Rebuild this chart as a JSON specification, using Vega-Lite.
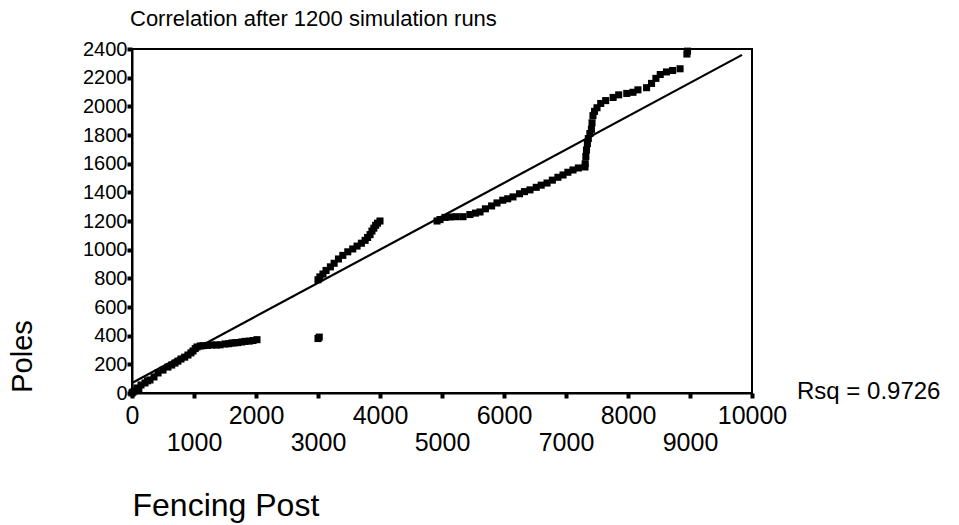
{
  "$schema": "https://vega.github.io/schema/vega-lite/v6.json",
  "width": 620,
  "height": 344,
  "autosize": {"type": "none"},
  "padding": {"left": 132, "top": 49, "right": 207, "bottom": 132},
  "background": "white",
  "config": {
    "font": "Liberation Sans",
    "view": {"stroke": "black", "strokeWidth": 2},
    "axis": {"grid": false, "domainColor": "black", "domainWidth": 2, "tickColor": "black", "labelColor": "black", "titleColor": "black", "labelFont": "Liberation Sans", "titleFont": "Liberation Sans", "titleFontWeight": "normal", "labelOverlap": false, "labelFlush": false, "labelBound": false},
    "axisY": {"labelOverlap": false, "labelSeparation": 0}
  },
  "title": {"text": "Correlation after 1200 simulation runs", "anchor": "start", "frame": "group", "fontSize": 22, "fontWeight": "normal", "font": "Liberation Sans", "color": "black", "baseline": "alphabetic", "offset": -9, "dx": -2},
  "datasets": {
    "runs": [
      {"post": 0, "poles": 0}, {"post": 16, "poles": 7}, {"post": 40, "poles": 15}, {"post": 80, "poles": 35}, {"post": 110, "poles": 30},
      {"post": 145, "poles": 56}, {"post": 210, "poles": 70}, {"post": 250, "poles": 85}, {"post": 290, "poles": 91}, {"post": 355, "poles": 112},
      {"post": 420, "poles": 140}, {"post": 500, "poles": 160}, {"post": 580, "poles": 181}, {"post": 640, "poles": 195}, {"post": 694, "poles": 209},
      {"post": 740, "poles": 222}, {"post": 790, "poles": 237}, {"post": 850, "poles": 250}, {"post": 903, "poles": 265}, {"post": 950, "poles": 280},
      {"post": 984, "poles": 293}, {"post": 1020, "poles": 310}, {"post": 1048, "poles": 321}, {"post": 1100, "poles": 328}, {"post": 1145, "poles": 330},
      {"post": 1220, "poles": 332}, {"post": 1290, "poles": 335}, {"post": 1360, "poles": 335}, {"post": 1420, "poles": 336}, {"post": 1500, "poles": 342},
      {"post": 1560, "poles": 344}, {"post": 1613, "poles": 349}, {"post": 1660, "poles": 350}, {"post": 1710, "poles": 352}, {"post": 1770, "poles": 356},
      {"post": 1823, "poles": 360}, {"post": 1890, "poles": 362}, {"post": 1952, "poles": 366}, {"post": 2016, "poles": 372},
      {"post": 3000, "poles": 380}, {"post": 3020, "poles": 390},
      {"post": 3000, "poles": 790}, {"post": 3030, "poles": 810}, {"post": 3080, "poles": 830}, {"post": 3130, "poles": 855}, {"post": 3200, "poles": 880},
      {"post": 3260, "poles": 905}, {"post": 3330, "poles": 935}, {"post": 3400, "poles": 960}, {"post": 3480, "poles": 985}, {"post": 3560, "poles": 1005},
      {"post": 3630, "poles": 1025}, {"post": 3700, "poles": 1045}, {"post": 3760, "poles": 1065}, {"post": 3800, "poles": 1085}, {"post": 3840, "poles": 1105},
      {"post": 3870, "poles": 1130}, {"post": 3900, "poles": 1150}, {"post": 3930, "poles": 1170}, {"post": 3960, "poles": 1185}, {"post": 4000, "poles": 1200},
      {"post": 4920, "poles": 1200}, {"post": 4968, "poles": 1210}, {"post": 5050, "poles": 1225}, {"post": 5129, "poles": 1228}, {"post": 5230, "poles": 1230},
      {"post": 5339, "poles": 1230}, {"post": 5450, "poles": 1245}, {"post": 5540, "poles": 1255}, {"post": 5613, "poles": 1263}, {"post": 5700, "poles": 1285},
      {"post": 5800, "poles": 1305}, {"post": 5887, "poles": 1326}, {"post": 5980, "poles": 1345}, {"post": 6060, "poles": 1355}, {"post": 6145, "poles": 1368},
      {"post": 6250, "poles": 1390}, {"post": 6330, "poles": 1405}, {"post": 6419, "poles": 1417}, {"post": 6520, "poles": 1435}, {"post": 6600, "poles": 1450},
      {"post": 6694, "poles": 1465}, {"post": 6780, "poles": 1485}, {"post": 6870, "poles": 1505}, {"post": 6952, "poles": 1521}, {"post": 7030, "poles": 1540},
      {"post": 7113, "poles": 1556}, {"post": 7200, "poles": 1570}, {"post": 7306, "poles": 1577},
      {"post": 7310, "poles": 1600}, {"post": 7320, "poles": 1650}, {"post": 7330, "poles": 1695}, {"post": 7345, "poles": 1740}, {"post": 7360, "poles": 1775},
      {"post": 7385, "poles": 1810}, {"post": 7410, "poles": 1840}, {"post": 7420, "poles": 1885}, {"post": 7435, "poles": 1935}, {"post": 7460, "poles": 1965},
      {"post": 7500, "poles": 1990}, {"post": 7560, "poles": 2020}, {"post": 7640, "poles": 2040}, {"post": 7760, "poles": 2062}, {"post": 7850, "poles": 2080},
      {"post": 7980, "poles": 2090}, {"post": 8080, "poles": 2098}, {"post": 8160, "poles": 2115}, {"post": 8300, "poles": 2130}, {"post": 8380, "poles": 2160},
      {"post": 8450, "poles": 2195}, {"post": 8520, "poles": 2222}, {"post": 8620, "poles": 2240}, {"post": 8720, "poles": 2250}, {"post": 8840, "poles": 2262},
      {"post": 8950, "poles": 2365}, {"post": 8960, "poles": 2385}
    ],
    "fit": [{"post": 0, "poles": 70}, {"post": 9840, "poles": 2359}],
    "note": [{"label": "Rsq = 0.9726", "post": 10000, "poles": 0}]
  },
  "encoding": {
    "x": {"field": "post", "type": "quantitative", "scale": {"domain": [0, 10000], "nice": false},
      "axis": {"title": "Fencing Post", "values": [0, 1000, 2000, 3000, 4000, 5000, 6000, 7000, 8000, 9000, 10000], "format": "d",
        "labelFontSize": 25, "labelPadding": {"condition": {"test": "datum.value % 2000 !== 0", "value": 32}, "value": 5},
        "tickSize": 5, "tickWidth": 4, "labelFlush": false, "labelOverlap": false,
        "titleFontSize": 32, "titleAnchor": "start", "titleX": 0, "titleY": 112, "titleBaseline": "middle", "titleAlign": "left"}},
    "y": {"field": "poles", "type": "quantitative", "scale": {"domain": [0, 2400], "nice": false},
      "axis": {"title": "Poles", "values": [0, 200, 400, 600, 800, 1000, 1200, 1400, 1600, 1800, 2000, 2200, 2400], "format": "d",
        "labelFontSize": 20, "labelPadding": 0, "tickSize": 5, "tickWidth": 4, "labelFlush": false, "labelOverlap": false,
        "titleFontSize": 29, "titleX": -110, "titleY": 307, "titleBaseline": "middle", "titleAlign": "center", "titleAngle": -90}}
  },
  "layer": [
    {
      "data": {"name": "fit"},
      "mark": {"type": "line", "color": "black", "strokeWidth": 2.2}
    },
    {
      "data": {"name": "runs"},
      "mark": {"type": "point", "shape": "square", "filled": true, "color": "black", "size": 50, "opacity": 1}
    },
    {
      "data": {"name": "note"},
      "mark": {"type": "text", "align": "left", "baseline": "middle", "dx": 45, "dy": -1, "fontSize": 24, "color": "black", "font": "Liberation Sans"},
      "encoding": {
        "text": {"field": "label"}
      }
    }
  ]
}
